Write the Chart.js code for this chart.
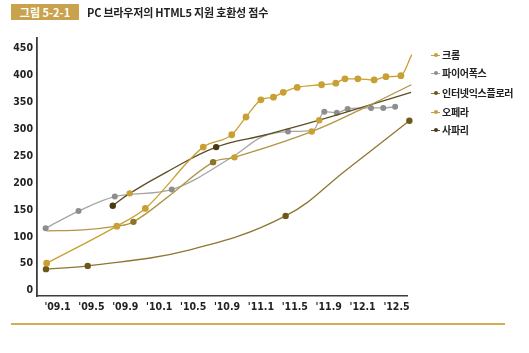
<!DOCTYPE html>
<html><head><meta charset="utf-8">
<script src="https://cdn.jsdelivr.net/npm/chart.js@4/dist/chart.umd.min.js"></script>
<style>
html,body{margin:0;padding:0;background:#fff;}
#wrap{position:relative;width:529px;height:353px;overflow:hidden;background:#fff;}
#c{position:absolute;left:0;top:0;}
.tbox{position:absolute;left:11px;top:4px;width:68px;height:16px;background:#C9A24E;color:#fff;font:bold 11px "Noto Sans CJK KR";line-height:16px;text-align:center;}
.ttl{position:absolute;left:87px;top:4px;height:16px;line-height:16px;font:bold 11px "Noto Sans CJK KR";color:#222;white-space:nowrap;letter-spacing:-0.2px;}
.rule{position:absolute;left:11px;top:323px;width:494px;height:2px;background:#D4AC52;}
.leg{position:absolute;left:431px;height:14px;line-height:14px;font:bold 10px "Noto Sans CJK KR";color:#222;white-space:nowrap;letter-spacing:-0.3px;}
.mk{display:inline-block;position:relative;width:9px;height:1.5px;vertical-align:middle;margin-right:2px;margin-top:-2px;}
.mk b{position:absolute;left:2.5px;top:-1.5px;width:4px;height:4px;border-radius:50%;}
</style></head>
<body><div id="wrap">
<canvas id="c" width="529" height="353"></canvas>
<div class="tbox">그림 5-2-1</div>
<div class="ttl">PC 브라우저의 HTML5 지원 호환성 점수</div>
<div id="legend"></div>
<div class="rule"></div>
</div>
<script>
// ---- data ----
const xLabels = ["'09.1","'09.5","'09.9","'10.1","'10.5","'10.9","'11.1","'11.5","'11.9","'12.1","'12.5"];
const yTicks = [0,50,100,150,200,250,300,350,400,450];
const seriesNames = ['크롬','파이어폭스','인터넷익스플로러','오페라','사파리'];

// x positions are in category-slot units (0 = '09.1 ... 10 = '12.5)
const chromeX = [-0.32,1.75,2.59,4.30,5.14,5.56,6.00,6.37,6.66,7.07,7.79,8.21,8.48,8.86,9.34,9.69,10.13,10.45];
const chromeY = [51,120,153,267,290,323,355,360,369,378,383,386,394,394,392,398,400,439];

const firefoxX = [-0.35,0.62,1.69,3.37,5.21,6.03,6.80,7.54,7.87,8.24,8.56,9.25,9.61,9.96];
const firefoxY = [116,148,175,188,251,286,296,298,333,331,338,340,340,342];

const ieX = [-0.34,0.89,3.91,6.73,8.53,10.38];
const ieY = [40,46,76,139,225,316];

const operaX = [-0.32,0.76,1.76,2.24,3.23,4.59,5.22,7.50,9.01,10.44];
const operaY = [111,113,120,128,173,239,248,296,339,383];

const safariX = [1.63,2.13,3.23,4.68,6.15,7.72,10.43];
const safariY = [158,181,221,267,290,317,369];

// ---- styles ----
const C = {
  chrome:'#C9A033', ffLine:'#A5A5A5', ffPt:'#8E8E8E',
  opLine:'#B39446', opPt:'#8C7428',
  saLine:'#5E4D24', saPt:'#4A3A12',
  ieLine:'#8F7634', iePt:'#6E5719'
};
const ffMarks = [1,1,1,1,0,0,1,0,1,1,1,1,1,1];
const ieMarks = [1,1,0,1,0,1];
const opMarks = [0,0,0,1,0,1,1,1,0,1];
const opPtCol = [C.opPt,C.opPt,C.opPt,C.opPt,C.opPt,C.opPt,C.chrome,C.chrome,C.opPt,C.opPt];
const saMarks = [1,1,0,1,0,1,1];
const saPtCol = [C.saPt,C.chrome,C.saPt,C.saPt,C.saPt,C.chrome,C.saPt];

const pts = (xs, ys) => xs.map((x, i) => ({x, y: ys[i]}));
const R = 3.2;

function ds(label, xs, ys, line, ptCol, marks, r, smooth) {
  const o = {
    label, data: pts(xs, ys),
    borderColor: line, borderWidth: 1.3,
    pointBackgroundColor: ptCol, pointBorderWidth: 0, pointBorderColor: ptCol,
    pointRadius: marks ? marks.map(m => m ? r : 0) : r,
    pointHoverRadius: 0, fill: false, clip: false
  };
  if (smooth) { o.tension = 0.4; o.cubicInterpolationMode = 'default'; }
  else { o.cubicInterpolationMode = 'monotone'; }
  return o;
}

const tickFont = {family: '"Liberation Sans Narrow","DejaVu Sans Condensed",sans-serif', size: 10.5, weight: 'bold'};

new Chart(document.getElementById('c'), {
  type: 'line',
  data: {
    datasets: [
      ds(seriesNames[0], chromeX, chromeY, C.chrome, C.chrome, null, 3.4, false),
      ds(seriesNames[3], operaX, operaY, C.opLine, opPtCol, opMarks, R, true),
      ds(seriesNames[4], safariX, safariY, C.saLine, saPtCol, saMarks, R, true),
      ds(seriesNames[1], firefoxX, firefoxY, C.ffLine, C.ffPt, ffMarks, 3, false),
      ds(seriesNames[2], ieX, ieY, C.ieLine, C.iePt, ieMarks, R, true)
    ]
  },
  options: {
    responsive: false, animation: false, devicePixelRatio: 1,
    layout: {padding: {left: 0, top: 38, right: 122, bottom: 33}},
    plugins: {legend: {display: false}, tooltip: {enabled: false}, title: {display: false}},
    scales: {
      x: {
        type: 'linear', min: -0.605, max: 10.31,
        grid: {display: false, drawTicks: false},
        border: {display: true, color: '#3c3c3c', width: 1.5},
        afterBuildTicks: s => { s.ticks = xLabels.map((_, i) => ({value: i})); },
        afterFit: s => { s.height = 24; },
        ticks: {autoSkip: false, maxRotation: 0, padding: 5, color: '#222', font: tickFont,
          callback: v => xLabels[v]}
      },
      y: {
        type: 'linear', min: -10, max: 470,
        grid: {display: false, drawTicks: false},
        border: {display: true, color: '#3c3c3c', width: 1.8},
        afterBuildTicks: s => { s.ticks = yTicks.map(v => ({value: v})); },
        afterFit: s => { s.width = 37; },
        ticks: {padding: 4, color: '#222', font: tickFont}
      }
    }
  }
});

// legend (HTML)
const legCols = [[C.chrome,C.chrome],[C.ffLine,C.ffPt],[C.ieLine,C.iePt],[C.chrome,C.chrome],[C.saLine,C.saPt]];
const legTops = [47,65,85,104,122];
const lg = document.getElementById('legend');
seriesNames.forEach((n, i) => {
  const d = document.createElement('div');
  d.className = 'leg';
  d.style.top = legTops[i] + 'px';
  d.innerHTML = '<span class="mk" style="background:' + legCols[i][0] + '"><b style="background:' + legCols[i][1] + '"></b></span>' + n;
  lg.appendChild(d);
});
</script>
</body></html>
